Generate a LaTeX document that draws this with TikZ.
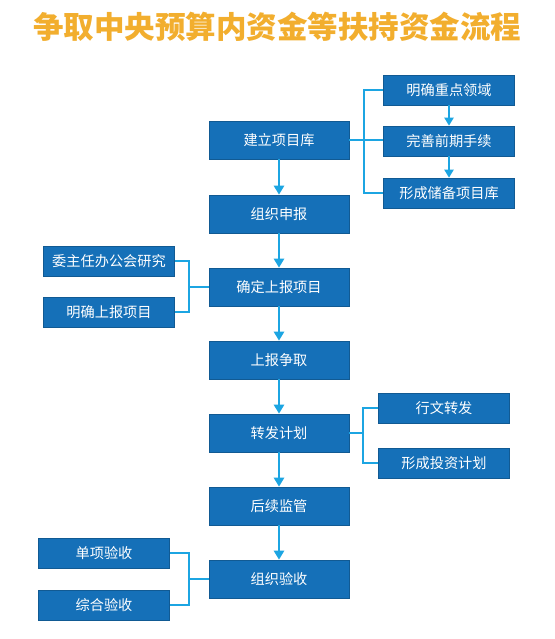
\documentclass[tikz,border=0pt]{standalone}
\usepackage{fontspec}
\setmainfont{Noto Sans CJK SC}
\usetikzlibrary{arrows.meta}
\definecolor{boxblue}{HTML}{1570B8}
\definecolor{lineblue}{HTML}{1CA5E2}
\definecolor{titleor}{HTML}{F2AE2E}
\begin{document}
\begin{tikzpicture}[x=1pt,y=-1pt,
  mainbox/.style={fill=boxblue,draw=boxblue!80!black,line width=0.6pt,text=white,minimum width=140pt,minimum height=38pt,inner sep=0pt,font=\fontsize{14.2}{16}\selectfont},
  sidebox/.style={fill=boxblue,draw=boxblue!80!black,line width=0.6pt,text=white,minimum width=131pt,minimum height=30pt,inner sep=0pt,font=\fontsize{14.2}{16}\selectfont},
  link/.style={draw=lineblue,line width=2.8pt},
  arr/.style={link,-{Triangle[length=9pt,width=10pt]}},
  arrs/.style={link,-{Triangle[length=8pt,width=9pt]}}]
\useasboundingbox (0,0) rectangle (554,639);
\fill[white] (0,0) rectangle (554,639);
\node[text=titleor,font=\fontsize{30.5}{33}\selectfont\bfseries] (title) at (277,27) {争取中央预算内资金等扶持资金流程};
% main column
\node[mainbox] (m1) at (279,140) {建立项目库};
\node[mainbox] (m2) at (279,214) {组织申报};
\node[mainbox] (m3) at (279,287) {确定上报项目};
\node[mainbox] (m4) at (279,360) {上报争取};
\node[mainbox] (m5) at (279,433) {转发计划};
\node[mainbox] (m6) at (279,506) {后续监管};
\node[mainbox] (m7) at (279,579) {组织验收};
% right top
\node[sidebox] (r1) at (449,90) {明确重点领域};
\node[sidebox] (r2) at (449,141) {完善前期手续};
\node[sidebox] (r3) at (449,193) {形成储备项目库};
% left middle
\node[sidebox] (l1) at (109,261) {委主任办公会研究};
\node[sidebox] (l2) at (109,312) {明确上报项目};
% right middle
\node[sidebox] (r4) at (444,408) {行文转发};
\node[sidebox] (r5) at (444,463) {形成投资计划};
% bottom left
\node[sidebox] (l3) at (104,553) {单项验收};
\node[sidebox] (l4) at (104,605) {综合验收};
% main arrows
\foreach \a/\b in {m1/m2,m2/m3,m3/m4,m4/m5,m5/m6,m6/m7}
  \draw[arr] (\a.south) -- (\b.north);
\draw[arrs] (r1.south) -- (r2.north);
\draw[arrs] (r2.south) -- (r3.north);
% brackets
\coordinate (bt) at (364,0);
\draw[link] (m1.east) -- (r2.west |- m1.east);
\draw[link] (r1.west) -| (bt |- r3.west) -- (r3.west);
\coordinate (bl) at (189,0);
\draw[link] (l1.east) -| (bl |- l2.east) -- (l2.east);
\draw[link] (bl |- m3.west) -- (m3.west);
\coordinate (bm) at (363,0);
\draw[link] (r4.west) -| (bm |- r5.west) -- (r5.west);
\draw[link] (m5.east) -- (bm |- m5.east);
\draw[link] (l3.east) -| (bl |- l4.east) -- (l4.east);
\draw[link] (bl |- m7.west) -- (m7.west);
\end{tikzpicture}
\end{document}
